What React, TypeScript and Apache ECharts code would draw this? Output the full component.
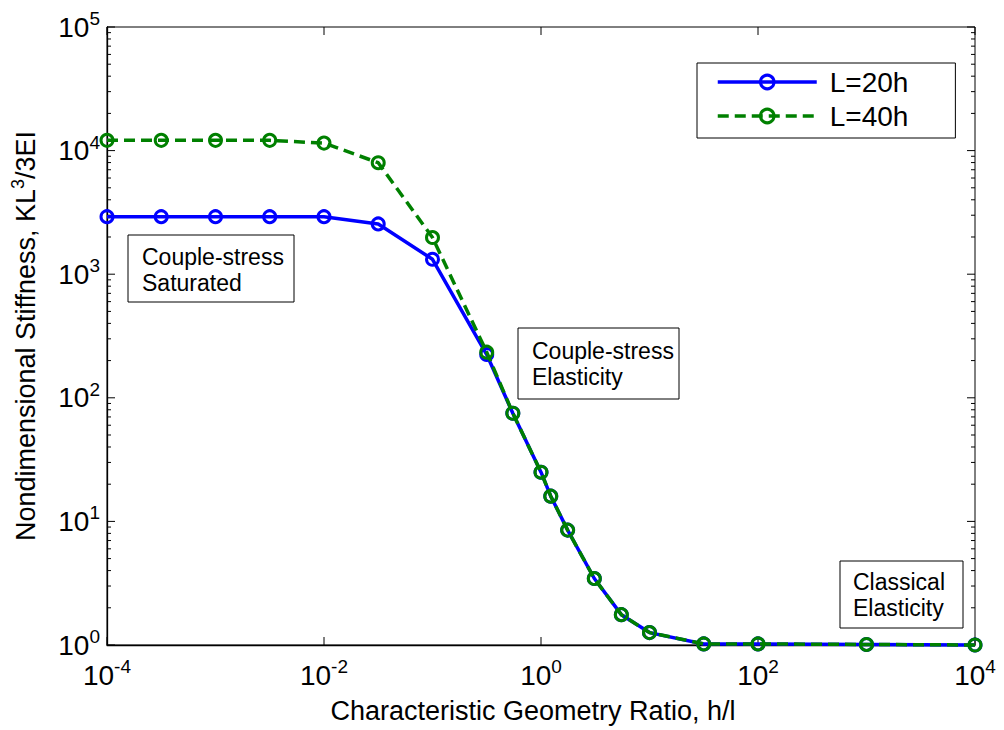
import React, { useEffect, useRef } from "react";
import * as echarts from "echarts";

// h/l values (x)
const hl = [1e-4, 3.16e-4, 1e-3, 3.16e-3, 1e-2, 3.16e-2, 0.1, 0.316, 0.55, 1.0, 1.23, 1.76, 3.1, 5.5, 10, 31.6, 100, 1000, 10000];
// Nondimensional stiffness, L = 20h
const stiff20 = [2920, 2920, 2920, 2920, 2920, 2550, 1320, 224, 75, 25, 16, 8.5, 3.45, 1.76, 1.26, 1.02, 1.02, 1.01, 1.0];
// Nondimensional stiffness, L = 40h
const stiff40 = [12100, 12100, 12100, 12100, 11500, 7980, 1980, 234, 75, 25, 16, 8.5, 3.45, 1.76, 1.26, 1.02, 1.02, 1.01, 1.0];

const seriesNames = ["L=20h", "L=40h"];
const xMajorExp = [-4, -2, 0, 2, 4];
const yMajorExp = [0, 1, 2, 3, 4, 5];
const yMinorMult = [2, 3, 4, 5, 6, 7, 8, 9];

const annotations = [
  { text: "Couple-stress\nSaturated", box: [128, 235, 166, 67], tx: 142, ty: 270 },
  { text: "Couple-stress\nElasticity", box: [518, 328, 161, 71], tx: 532, ty: 364 },
  { text: "Classical\nElasticity", box: [840, 561, 123, 67], tx: 853, ty: 595 },
];

const FONT = "'Liberation Sans', Arial, Helvetica, sans-serif";

export default function App() {
  const ref = useRef<HTMLDivElement>(null);
  useEffect(() => {
    if (!ref.current) return;
    const chart = echarts.init(ref.current, undefined, { renderer: "svg" });

    const tickData: number[][] = [];
    xMajorExp.forEach((e) => tickData.push([Math.pow(10, e), 1, 0]));
    yMajorExp.forEach((e) => tickData.push([1e-4, Math.pow(10, e), 1]));
    for (let e = 0; e < 5; e++) {
      yMinorMult.forEach((m) => tickData.push([1e-4, m * Math.pow(10, e), 2]));
    }

    const labelRich = {
      b: { fontSize: 28, lineHeight: 36, fontFamily: FONT, color: "#000" },
      s: { fontSize: 19, lineHeight: 15, verticalAlign: "top", fontFamily: FONT, color: "#000" },
    };
    const expOf = (v: number) => Math.round(Math.log10(v));

    const option: any = {
      animation: false,
      backgroundColor: "#fff",
      grid: { left: 107, right: 29, top: 27, bottom: 85, show: true, borderColor: "#000", borderWidth: 1, containLabel: false, outerBoundsMode: "none" },
      xAxis: {
        type: "log",
        logBase: 10,
        min: 1e-4,
        max: 1e4,
        name: "Characteristic Geometry Ratio, h/l",
        nameLocation: "middle",
        nameGap: 52,
        nameMoveOverlap: false,
        nameTextStyle: { fontSize: 27, fontFamily: FONT, color: "#000", padding: [0, 16, 0, 0] },
        axisLine: { show: true, lineStyle: { color: "#000", width: 1.3 } },
        axisTick: { show: false },
        splitLine: { show: false },
        minorTick: { show: false },
        axisLabel: {
          margin: 12,
          formatter: (v: number) => {
            const e = expOf(v);
            if (e % 2 !== 0) return "";
            return `{b|10}{s|${e}}`;
          },
          rich: labelRich,
        },
      },
      yAxis: {
        type: "log",
        logBase: 10,
        min: 1,
        max: 1e5,
        name: "Nondimensional Stiffness, KL{s|3}/3EI",
        nameLocation: "middle",
        nameGap: 64,
        nameMoveOverlap: false,
        nameTextStyle: {
          fontSize: 27,
          lineHeight: 34,
          fontFamily: FONT,
          color: "#000",
          rich: { s: { fontSize: 18, lineHeight: 16, verticalAlign: "top", fontFamily: FONT, color: "#000" } },
        },
        axisLine: { show: true, lineStyle: { color: "#000", width: 1.3 } },
        axisTick: { show: false },
        splitLine: { show: false },
        minorTick: { show: false },
        axisLabel: {
          margin: 7,
          formatter: (v: number) => `{b|10}{s|${expOf(v)}}`,
          rich: labelRich,
        },
      },
      legend: {
        data: seriesNames,
        orient: "vertical",
        left: 697,
        top: 63,
        itemWidth: 99,
        itemHeight: 17,
        itemGap: 4,
        padding: [4, 47, 7, 19],
        borderColor: "#000",
        borderWidth: 1,
        backgroundColor: "#fff",
        selectedMode: false,
        itemStyle: { borderWidth: 3 },
        lineStyle: { width: 3.5 },
        textStyle: { fontSize: 28, lineHeight: 30, fontFamily: FONT, color: "#000", padding: [0, 0, 0, 8] },
      },
      graphic: annotations.flatMap((a) => [
        {
          type: "rect",
          shape: { x: a.box[0], y: a.box[1], width: a.box[2], height: a.box[3] },
          style: { fill: "#fff", stroke: "#000", lineWidth: 1 },
          z: 10,
        },
        {
          type: "text",
          x: a.tx,
          y: a.ty,
          style: { text: a.text, fontSize: 23, lineHeight: 26, fontFamily: FONT, fill: "#000", verticalAlign: "middle", align: "left" },
          z: 11,
        },
      ]),
      series: [
        {
          type: "custom",
          silent: true,
          xAxisIndex: 0,
          yAxisIndex: 0,
          data: tickData,
          z: 1,
          renderItem: (params: any, api: any) => {
            const kind = api.value(2);
            const p = api.coord([api.value(0), api.value(1)]);
            const cs = params.coordSys;
            const st = { stroke: "#000", lineWidth: 1 };
            if (kind === 0) {
              const L = 8;
              const yb = cs.y + cs.height;
              return {
                type: "group",
                children: [
                  { type: "line", shape: { x1: p[0], y1: yb, x2: p[0], y2: yb - L }, style: st },
                  { type: "line", shape: { x1: p[0], y1: cs.y, x2: p[0], y2: cs.y + L }, style: st },
                ],
              };
            }
            const L = kind === 1 ? 8 : 4;
            const xr = cs.x + cs.width;
            return {
              type: "group",
              children: [
                { type: "line", shape: { x1: cs.x, y1: p[1], x2: cs.x + L, y2: p[1] }, style: st },
                { type: "line", shape: { x1: xr, y1: p[1], x2: xr - L, y2: p[1] }, style: st },
              ],
            };
          },
        },
        {
          name: seriesNames[0],
          type: "line",
          data: hl.map((x, i) => [x, stiff20[i]]),
          symbol: "circle",
          symbolSize: 12,
          clip: false,
          z: 3,
          itemStyle: { color: "rgba(255,255,255,0)", borderColor: "#0000ff", borderWidth: 3 },
          lineStyle: { color: "#0000ff", width: 3.5 },
          emphasis: { disabled: true },
        },
        {
          name: seriesNames[1],
          type: "line",
          data: hl.map((x, i) => [x, stiff40[i]]),
          symbol: "circle",
          symbolSize: 12,
          clip: false,
          z: 4,
          itemStyle: { color: "rgba(255,255,255,0)", borderColor: "#008000", borderWidth: 3 },
          lineStyle: { color: "#008000", width: 3.5, type: [11, 6] },
          emphasis: { disabled: true },
        },
      ],
    };
    chart.setOption(option);
    return () => chart.dispose();
  }, []);
  return <div ref={ref} style={{ position: "fixed", left: 0, top: 0, width: 1004, height: 730 }} />;
}
